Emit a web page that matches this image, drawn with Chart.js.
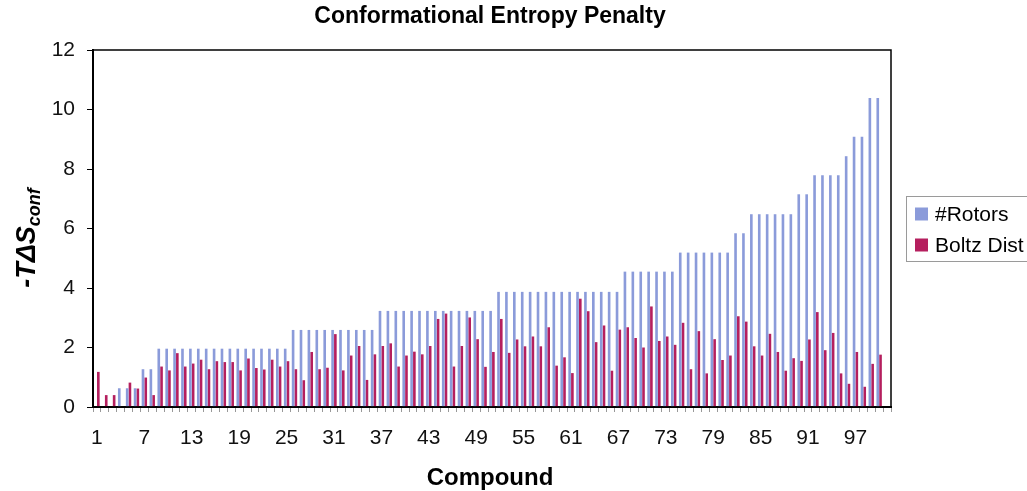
<!DOCTYPE html>
<html>
<head>
<meta charset="utf-8">
<script src="https://cdn.jsdelivr.net/npm/chart.js@4/dist/chart.umd.min.js"></script>
<style>
  html, body { margin: 0; padding: 0; background: #fff; }
  #wrap { width: 1027px; height: 491px; }
</style>
</head>
<body>
<div id="wrap"><canvas id="entropyChart" width="1027" height="491"></canvas></div>
<script>
// compounds 1..100, plus one empty slot at the end of the axis
const compounds = Array.from({ length: 101 }, (_, i) => String(i + 1));

const rotors = [
  0, 0, 0, 0.63, 0.63, 0.63, 1.27, 1.27,
  1.96, 1.96, 1.96, 1.96, 1.96, 1.96, 1.96, 1.96, 1.96, 1.96, 1.96, 1.96, 1.96, 1.96, 1.96, 1.96, 1.96,
  2.59, 2.59, 2.59, 2.59, 2.59, 2.59, 2.59, 2.59, 2.59, 2.59, 2.59,
  3.23, 3.23, 3.23, 3.23, 3.23, 3.23, 3.23, 3.23, 3.23, 3.23, 3.23, 3.23, 3.23, 3.23, 3.23,
  3.87, 3.87, 3.87, 3.87, 3.87, 3.87, 3.87, 3.87, 3.87, 3.87, 3.87, 3.87, 3.87, 3.87, 3.87, 3.87,
  4.55, 4.55, 4.55, 4.55, 4.55, 4.55, 4.55,
  5.19, 5.19, 5.19, 5.19, 5.19, 5.19, 5.19,
  5.84, 5.84,
  6.48, 6.48, 6.48, 6.48, 6.48, 6.48,
  7.15, 7.15,
  7.79, 7.79, 7.79, 7.79,
  8.43,
  9.08, 9.08,
  10.39, 10.39,
  null
];

const boltz = [
  1.18, 0.40, 0.40, 0, 0.82, 0.62, 0.99, 0.40, 1.36, 1.23,
  1.81, 1.36, 1.46, 1.59, 1.27, 1.54, 1.51, 1.51, 1.23, 1.63,
  1.31, 1.26, 1.59, 1.36, 1.54, 1.27, 0.90, 1.85, 1.27, 1.32,
  2.45, 1.23, 1.73, 2.05, 0.91, 1.77, 2.05, 2.14, 1.36, 1.73,
  1.86, 1.77, 2.05, 2.96, 3.14, 1.36, 2.05, 3.01, 2.28, 1.35,
  1.85, 2.96, 1.82, 2.27, 2.04, 2.37, 2.04, 2.68, 1.39, 1.67,
  1.14, 3.64, 3.22, 2.18, 2.74, 1.22, 2.60, 2.68, 2.32, 2.00,
  3.38, 2.22, 2.37, 2.09, 2.83, 1.27, 2.55, 1.13, 2.28, 1.58,
  1.73, 3.05, 2.87, 2.04, 1.73, 2.46, 1.85, 1.22, 1.64, 1.55,
  2.27, 3.19, 1.91, 2.49, 1.13, 0.78, 1.85, 0.68, 1.45, 1.76,
  null
];

const yTicks = [0, 2, 4, 6, 8, 10, 12];

const FONT = '"Liberation Sans", Arial, sans-serif';
const BLUE = "#8b9bda";
const PINK = "#b51f5e";

// titles, frame and legend drawn by hand so they sit where the original has them
const decorations = {
  id: "decorations",
  afterDraw(chart) {
    const ctx = chart.ctx;
    const a = chart.chartArea;
    ctx.save();

    // frame round the plot
    ctx.strokeStyle = "#000";
    ctx.lineWidth = 1.5;
    ctx.strokeRect(a.left, a.top, a.right - a.left, a.bottom - a.top);

    ctx.fillStyle = "#000";
    ctx.textAlign = "center";
    ctx.textBaseline = "middle";
    ctx.font = "bold 23px " + FONT;
    ctx.fillText("Conformational Entropy Penalty", 490, 17);

    ctx.font = "bold 24px " + FONT;
    ctx.fillText("Compound", 490, 478);

    // y title with subscript
    ctx.translate(35, 238);
    ctx.rotate(-Math.PI / 2);
    ctx.textAlign = "left";
    ctx.textBaseline = "alphabetic";
    const main = "-T\u0394S";
    const sub = "conf";
    ctx.font = "italic bold 27px " + FONT;
    const wMain = ctx.measureText(main).width;
    ctx.font = "italic bold 18px " + FONT;
    const wSub = ctx.measureText(sub).width;
    const x0 = -(wMain + wSub) / 2;
    ctx.font = "italic bold 27px " + FONT;
    ctx.fillText(main, x0, 0);
    ctx.font = "italic bold 18px " + FONT;
    ctx.fillText(sub, x0 + wMain, 5);
    ctx.setTransform(1, 0, 0, 1, 0, 0);

    // legend
    const items = chart.data.datasets;
    const boxTop = 196, rowH = 31;
    ctx.strokeStyle = "#9a9a9a";
    ctx.lineWidth = 1;
    ctx.strokeRect(906.5, boxTop + 0.5, 130, 65);
    ctx.font = "21px " + FONT;
    ctx.textAlign = "left";
    ctx.textBaseline = "middle";
    items.forEach((ds, i) => {
      const cy = boxTop + 18 + i * rowH;
      ctx.fillStyle = ds.backgroundColor;
      ctx.fillRect(915, cy - 6.5, 13, 13);
      ctx.fillStyle = "#000";
      ctx.fillText(ds.label, 935, cy + 1);
    });

    ctx.restore();
  }
};

new Chart(document.getElementById("entropyChart"), {
  type: "bar",
  data: {
    labels: compounds,
    datasets: [
      { label: "#Rotors", data: rotors, backgroundColor: BLUE },
      { label: "Boltz Dist", data: boltz, backgroundColor: PINK }
    ]
  },
  options: {
    responsive: false,
    animation: false,
    devicePixelRatio: 1,
    layout: { padding: { left: 0, right: 136, top: 50, bottom: 0 } },
    datasets: {
      bar: { categoryPercentage: 0.7, barPercentage: 0.95 }
    },
    plugins: {
      legend: { display: false },
      title: { display: false },
      tooltip: { enabled: false }
    },
    scales: {
      x: {
        afterFit: (s) => { s.height = 84; },
        grid: {
          drawOnChartArea: false,
          drawTicks: true,
          tickLength: 5,
          offset: true,
          color: "#999"
        },
        border: { color: "#000", width: 2 },
        ticks: {
          autoSkip: false,
          maxRotation: 0,
          padding: 14,
          color: "#111",
          font: { family: FONT, size: 21 },
          callback: (v, i) => (i % 6 === 0 ? compounds[i] : "")
        }
      },
      y: {
        min: 0,
        max: 12,
        afterFit: (s) => { s.width = 93; },
        afterBuildTicks: (s) => { s.ticks = yTicks.map((v) => ({ value: v })); },
        grid: {
          drawOnChartArea: false,
          tickLength: 6,
          color: "#000"
        },
        border: { color: "#000", width: 2 },
        ticks: {
          padding: 12,
          color: "#111",
          font: { family: FONT, size: 21 }
        }
      }
    }
  },
  plugins: [decorations]
});
</script>
</body>
</html>
